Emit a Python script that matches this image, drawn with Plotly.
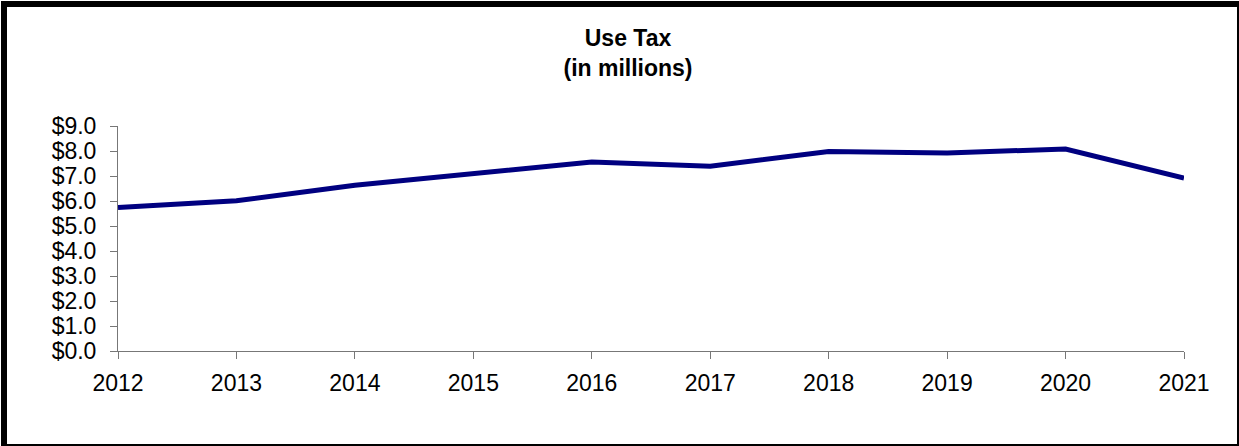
import plotly.graph_objects as go

years = [2012, 2013, 2014, 2015, 2016, 2017, 2018, 2019, 2020, 2021]
use_tax = [5.74, 6.01, 6.63, 7.11, 7.56, 7.39, 7.98, 7.92, 8.08, 6.92]
y_ticks = [0, 1, 2, 3, 4, 5, 6, 7, 8, 9]
y_tick_labels = ["$%.1f" % v for v in y_ticks]

W, H = 1239, 446
L, R, T, B = 118, 55, 126, 95
pw = W - L - R
ph = H - T - B

def px_x(p):
    return (p - L) / pw

def px_y(p):
    return (H - B - p) / ph

fig = go.Figure()
fig.add_trace(go.Scatter(
    x=years, y=use_tax, mode="lines",
    line=dict(color="#000080", width=5),
    hoverinfo="skip", showlegend=False,
))

axis_col = "#777777"
fig.update_layout(
    width=W, height=H,
    margin=dict(l=L, r=R, t=T, b=B, pad=0),
    paper_bgcolor="white", plot_bgcolor="white",
    font=dict(family="Liberation Sans, Arial, sans-serif", size=23, color="black"),
    title=dict(
        text="<b>Use Tax</b><br><b>(in millions)</b>",
        x=628 / W, xref="container", xanchor="center",
        y=1 - 46 / H, yref="container", yanchor="top",
        font=dict(size=23, color="black"),
    ),
    xaxis=dict(
        range=[2012, 2021], tickvals=years, ticktext=[str(y) for y in years],
        showgrid=False, zeroline=False, showline=True, linecolor=axis_col, linewidth=1,
        ticks="outside", ticklen=7, tickcolor=axis_col, tickwidth=1,
        ticklabelstandoff=4,
    ),
    yaxis=dict(
        range=[0, 9], tickvals=y_ticks, ticktext=y_tick_labels,
        showgrid=False, zeroline=False, showline=True, linecolor=axis_col, linewidth=1,
        ticks="outside", ticklen=7, tickcolor=axis_col, tickwidth=1,
        ticklabelstandoff=9,
    ),
    shapes=[
        dict(type="rect", xref="paper", yref="paper",
             x0=px_x(2), x1=px_x(1238), y0=px_y(2), y1=px_y(445),
             line=dict(color="black", width=2), fillcolor="rgba(0,0,0,0)", layer="above"),
        dict(type="rect", xref="paper", yref="paper",
             x0=px_x(2), x1=px_x(1238), y0=px_y(2), y1=px_y(7),
             line=dict(width=0), fillcolor="black", layer="above"),
        dict(type="rect", xref="paper", yref="paper",
             x0=px_x(2), x1=px_x(7), y0=px_y(2), y1=px_y(445),
             line=dict(width=0), fillcolor="black", layer="above"),
    ],
)

fig.write_html("out.html")
